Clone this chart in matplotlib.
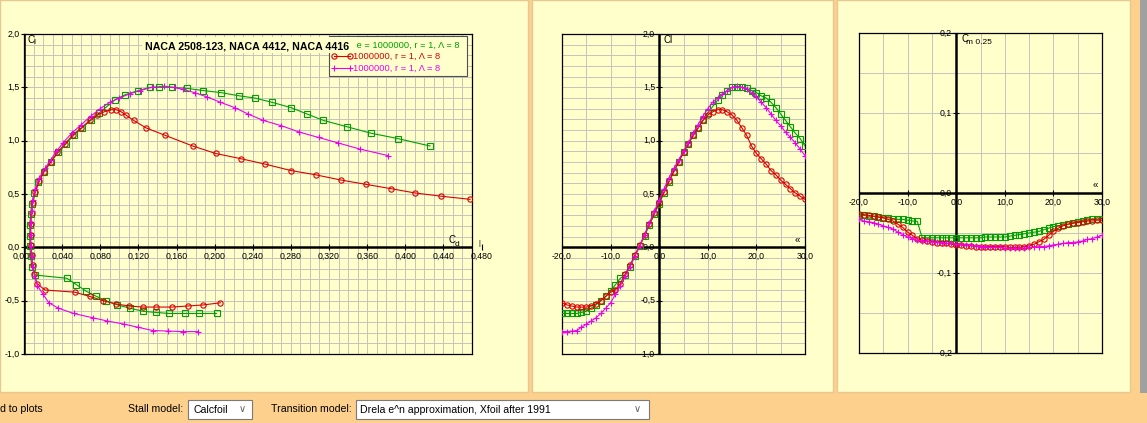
import matplotlib
matplotlib.use('Agg')
import matplotlib.pyplot as plt
from matplotlib.patches import Rectangle
from matplotlib.lines import Line2D
from matplotlib.transforms import ScaledTranslation

# ---------------- data ----------------
alpha = [-20, -19, -18, -17, -16, -15, -14, -13, -12, -11,
         -10, -9, -8, -7, -6, -5, -4, -3, -2, -1,
         0, 1, 2, 3, 4, 5, 6, 7, 8, 9,
         10, 11, 12, 13, 14, 15, 16, 17, 18, 19,
         20, 21, 22, 23, 24, 25, 26, 27, 28, 29, 30]

cl_green = [-0.62, -0.62, -0.62, -0.62, -0.61, -0.60, -0.57, -0.54, -0.50, -0.46,
            -0.41, -0.35, -0.29, -0.26, -0.18, -0.08, 0.01, 0.11, 0.21, 0.31,
            0.41, 0.51, 0.61, 0.71, 0.80, 0.89, 0.97, 1.05, 1.12, 1.19,
            1.26, 1.32, 1.38, 1.43, 1.47, 1.50, 1.50, 1.50, 1.49, 1.47,
            1.45, 1.42, 1.40, 1.36, 1.31, 1.25, 1.19, 1.13, 1.07, 1.02, 0.95]
cd_green = [0.202, 0.184, 0.169, 0.152, 0.138, 0.125, 0.111, 0.098, 0.086, 0.076,
            0.065, 0.055, 0.045, 0.012, 0.008, 0.007, 0.006, 0.006, 0.006, 0.007,
            0.008, 0.011, 0.015, 0.021, 0.028, 0.036, 0.044, 0.052, 0.061, 0.070,
            0.079, 0.087, 0.095, 0.106, 0.120, 0.132, 0.142, 0.155, 0.171, 0.188,
            0.207, 0.226, 0.242, 0.260, 0.280, 0.297, 0.314, 0.339, 0.364, 0.392, 0.426]
cm_green = [-0.028, -0.028, -0.029, -0.029, -0.030, -0.031, -0.031, -0.032, -0.033, -0.033,
            -0.034, -0.035, -0.0355, -0.056, -0.056, -0.056, -0.056, -0.056, -0.056, -0.056,
            -0.056, -0.056, -0.056, -0.056, -0.056, -0.056, -0.055, -0.055, -0.055, -0.055,
            -0.055, -0.054, -0.053, -0.052, -0.051, -0.050, -0.049, -0.048, -0.046, -0.044,
            -0.042, -0.041, -0.040, -0.039, -0.037, -0.036, -0.035, -0.034, -0.033, -0.033, -0.032]

cl_red = [-0.52, -0.54, -0.55, -0.56, -0.56, -0.56, -0.55, -0.53, -0.50, -0.46,
          -0.42, -0.40, -0.34, -0.25, -0.17, -0.07, 0.02, 0.12, 0.22, 0.32,
          0.42, 0.52, 0.62, 0.71, 0.80, 0.89, 0.97, 1.05, 1.12, 1.19,
          1.24, 1.27, 1.29, 1.29, 1.27, 1.24, 1.19, 1.12, 1.05, 0.95,
          0.88, 0.83, 0.78, 0.72, 0.68, 0.63, 0.59, 0.55, 0.51, 0.48, 0.45]
cd_red = [0.206, 0.188, 0.172, 0.155, 0.139, 0.125, 0.110, 0.096, 0.083, 0.069,
          0.053, 0.022, 0.0136, 0.011, 0.009, 0.008, 0.007, 0.007, 0.007, 0.008,
          0.009, 0.012, 0.016, 0.021, 0.028, 0.035, 0.043, 0.051, 0.060, 0.069,
          0.077, 0.084, 0.091, 0.097, 0.102, 0.107, 0.115, 0.128, 0.148, 0.177,
          0.201, 0.228, 0.253, 0.280, 0.306, 0.333, 0.359, 0.385, 0.410, 0.437, 0.468]
cm_red = [-0.026, -0.027, -0.028, -0.029, -0.030, -0.031, -0.033, -0.035, -0.039, -0.043,
          -0.049, -0.053, -0.057, -0.059, -0.060, -0.061, -0.062, -0.062, -0.063, -0.064,
          -0.065, -0.065, -0.066, -0.066, -0.067, -0.067, -0.067, -0.067, -0.067, -0.067,
          -0.067, -0.068, -0.068, -0.068, -0.067, -0.066, -0.064, -0.061, -0.058, -0.053,
          -0.048, -0.044, -0.041, -0.039, -0.038, -0.037, -0.036, -0.035, -0.035, -0.034, -0.034]

cl_mag = [-0.79, -0.79, -0.785, -0.78, -0.75, -0.72, -0.69, -0.66, -0.62, -0.57,
          -0.52, -0.44, -0.36, -0.27, -0.18, -0.08, 0.01, 0.12, 0.23, 0.34,
          0.44, 0.55, 0.65, 0.74, 0.82, 0.90, 0.98, 1.07, 1.15, 1.23,
          1.30, 1.36, 1.40, 1.44, 1.47, 1.50, 1.51, 1.50, 1.48, 1.45,
          1.41, 1.36, 1.31, 1.25, 1.19, 1.14, 1.08, 1.03, 0.98, 0.92, 0.86]
cd_mag = [0.183, 0.167, 0.151, 0.135, 0.120, 0.105, 0.087, 0.072, 0.052, 0.036,
          0.026, 0.020, 0.014, 0.011, 0.009, 0.008, 0.007, 0.007, 0.007, 0.008,
          0.009, 0.012, 0.016, 0.022, 0.028, 0.034, 0.041, 0.050, 0.060, 0.070,
          0.080, 0.090, 0.100, 0.111, 0.122, 0.134, 0.147, 0.157, 0.167, 0.179,
          0.192, 0.206, 0.221, 0.235, 0.251, 0.270, 0.289, 0.309, 0.329, 0.353, 0.382]
cm_mag = [-0.033, -0.035, -0.036, -0.037, -0.039, -0.041, -0.043, -0.045, -0.049, -0.052,
          -0.055, -0.057, -0.059, -0.060, -0.060, -0.061, -0.061, -0.062, -0.063, -0.063,
          -0.064, -0.064, -0.065, -0.065, -0.066, -0.067, -0.067, -0.068, -0.068, -0.068,
          -0.069, -0.069, -0.069, -0.069, -0.069, -0.068, -0.068, -0.067, -0.067, -0.066,
          -0.065, -0.064, -0.063, -0.062, -0.062, -0.061, -0.060, -0.058, -0.057, -0.055, -0.053]

title = "NACA 2508-123, NACA 4412, NACA 4416"
legend_labels = ["Re = 1000000, r = 1, \u039b = 8",
                 "1000000, r = 1, \u039b = 8",
                 "1000000, r = 1, \u039b = 8"]

cd_ticks = [0.0, 0.04, 0.08, 0.12, 0.16, 0.20, 0.24, 0.28, 0.32, 0.36, 0.40, 0.44, 0.48]
cl_ticks = [-1.0, -0.5, 0.0, 0.5, 1.0, 1.5, 2.0]
alpha_ticks = [-20, -10, 0, 10, 20, 30]
cm_ticks = [-0.2, -0.1, 0.0, 0.1, 0.2]

# ---------------- style ----------------
ORANGE = '#FDD08E'
PANEL = '#FFFFCC'
GRID = '#C4C4BC'
GREEN = '#00A000'
RED = '#DD0000'
MAG = '#EE00EE'
FONT = 'Liberation Sans'
plt.rcParams['font.family'] = [FONT, 'DejaVu Sans']

W, H = 1147, 423
fig = plt.figure(figsize=(W / 100, H / 100), dpi=100)
fig.patch.set_facecolor(ORANGE)


def rect_px(x0, y0, x1, y1, **kw):
    r = Rectangle((x0 / W, 1 - y1 / H), (x1 - x0) / W, (y1 - y0) / H,
                  transform=fig.transFigure, **kw)
    fig.patches.append(r)
    return r


def axes_px(x0, y0, x1, y1):
    return fig.add_axes([x0 / W, 1 - y1 / H, (x1 - x0) / W, (y1 - y0) / H])


def ftext(x, y, s, **kw):
    return fig.text(x / W, 1 - y / H, s, **kw)


# panels
rect_px(0, 0, 528, 392, facecolor=PANEL, edgecolor='#E8C890', lw=1, zorder=-10)
rect_px(532, 0, 833, 392, facecolor=PANEL, edgecolor='#E8C890', lw=1, zorder=-10)
rect_px(837, 0, 1130, 392, facecolor=PANEL, edgecolor='#E8C890', lw=1, zorder=-10)
rect_px(1140, 0, 1147, 393, facecolor='#A0A0A0', edgecolor='none', zorder=-10)

lab_kw = dict(fontsize=6.3, color='black')


def setup(ax, xlim, ylim, xgrid, ygrid):
    ax.set_facecolor(PANEL)
    ax.set_xlim(*xlim)
    ax.set_ylim(*ylim)
    ax.set_xticks(xgrid)
    ax.set_yticks(ygrid)
    ax.tick_params(length=0, labelbottom=False, labelleft=False)
    ax.grid(True, color=GRID, lw=0.7)
    ax.set_axisbelow(True)
    for s in ax.spines.values():
        s.set_linewidth(0.9)
        s.set_color('black')
    ax.axhline(0, color='black', lw=1.8, zorder=4)
    ax.axvline(0, color='black', lw=1.8, zorder=4)


def ticklabels(ax, xt, xfmt, yt, yfmt, x0=0.0):
    dx = ScaledTranslation(0, -9 / 100, fig.dpi_scale_trans)
    dy = ScaledTranslation(-4 / 100, 0, fig.dpi_scale_trans)
    for v in xt:
        ax.text(v, 0, xfmt(v), transform=ax.transData + dx, ha='center', va='center',
                clip_on=False, zorder=3, **lab_kw)
    for v in yt:
        ax.text(x0, v, yfmt(v), transform=ax.transData + dy, ha='right', va='center',
                clip_on=False, zorder=3, **lab_kw)
    ax.plot(xt, [0] * len(xt), linestyle='none', marker='|', ms=4, mew=0.8, color='black',
            clip_on=False, zorder=5)
    ax.plot([x0] * len(yt), yt, linestyle='none', marker='_', ms=4, mew=0.8, color='black',
            clip_on=False, zorder=5)


def fmt(d):
    return lambda v: (f"{v:.{d}f}").replace('.', ',')


mk = dict(ms=3.8, mew=0.8, mfc='none', lw=0.8)

# ---------------- panel 1 : Cl vs Cd ----------------
ax1 = axes_px(24, 34, 472, 354)
setup(ax1, (0, 0.47), (-1, 2), [i / 100 for i in range(0, 48)], [i / 10 for i in range(-10, 21)])
ax1.plot(cd_green, cl_green, color=GREEN, marker='s', zorder=6, **mk)
ax1.plot(cd_red, cl_red, color=RED, marker='o', zorder=6, **mk)
ax1.plot(cd_mag, cl_mag, color=MAG, marker='+', zorder=6, ms=4.5, mew=0.8, lw=0.8)
ticklabels(ax1, cd_ticks, fmt(3), cl_ticks, fmt(1))

# axis labels
ftext(28, 40, 'C', fontsize=7, va='center', ha='left')
ftext(33, 43, 'l', fontsize=6, va='center', ha='left')
ftext(449, 240, 'C', fontsize=7, va='center', ha='left')
ftext(455, 244, 'd', fontsize=6, va='center', ha='left')
ftext(478, 243, '|', fontsize=5, va='center', ha='left')

# legend (partly hidden by the title box)
rect_px(329, 36, 467, 76, facecolor=PANEL, edgecolor='#505050', lw=0.8, zorder=5)
leg_cols = [GREEN, RED, MAG]
leg_marks = ['s', 'o', '+']
leg_y = [45, 56.5, 68]
leg_x = [349.5, 353, 353]
for lbl, c, m, yy, xx in zip(legend_labels, leg_cols, leg_marks, leg_y, leg_x):
    fig.add_artist(Line2D([334 / W, 350 / W], [1 - yy / H, 1 - yy / H], color=c, lw=0.8,
                          marker=m, ms=3.8 if m != '+' else 4.5, mew=0.8, mfc='none',
                          transform=fig.transFigure, zorder=6))
    ftext(xx, yy, lbl, fontsize=6.7, color=c, va='center', ha='left', zorder=6)

# title box
rect_px(142, 37, 356, 53.5, facecolor=PANEL, edgecolor='none', zorder=7)
ftext(145, 46.5, title, fontsize=7.7, fontweight='bold', va='center', ha='left', zorder=8)

# ---------------- panel 2 : Cl vs alpha ----------------
ax2 = axes_px(562, 34, 805, 354)
setup(ax2, (-20, 30), (-1, 2), list(range(-20, 31, 5)), [i / 10 for i in range(-10, 21)])
ax2.plot(alpha, cl_green, color=GREEN, marker='s', zorder=6, **mk)
ax2.plot(alpha, cl_red, color=RED, marker='o', zorder=6, **mk)
ax2.plot(alpha, cl_mag, color=MAG, marker='+', zorder=6, ms=4.5, mew=0.8, lw=0.8)
ticklabels(ax2, alpha_ticks, fmt(1), cl_ticks, fmt(1))
ftext(663, 40, 'Cl', fontsize=7, va='center', ha='left')
ftext(795, 240, '\u00ab', fontsize=7, va='center', ha='left')

# ---------------- panel 3 : Cm vs alpha ----------------
ax3 = axes_px(859, 33, 1102, 353)
setup(ax3, (-20, 30), (-0.2, 0.2), list(range(-20, 31, 5)), [i / 100 for i in range(-20, 21, 5)])
ax3.plot(alpha, cm_green, color=GREEN, marker='s', zorder=6, **mk)
ax3.plot(alpha, cm_red, color=RED, marker='o', zorder=6, **mk)
ax3.plot(alpha, cm_mag, color=MAG, marker='+', zorder=6, ms=4.5, mew=0.8, lw=0.8)
ticklabels(ax3, alpha_ticks, fmt(1), cm_ticks, fmt(1))
ftext(961, 39, 'C', fontsize=7, va='center', ha='left')
ftext(966, 43, 'm 0.25', fontsize=6, va='center', ha='left')
ftext(1093, 185, '\u00ab', fontsize=7, va='center', ha='left')

# ---------------- bottom control strip ----------------
bt = dict(fontsize=7.6, va='center', ha='left', color='black')
ftext(0, 409, 'd to plots', **bt)
ftext(128, 409, 'Stall model:', **bt)
rect_px(188, 400, 252, 419, facecolor='white', edgecolor='#7A7A7A', lw=0.8, zorder=2)
ftext(193, 409.5, 'Calcfoil', **bt)
ftext(239, 409, '\u2228', fontsize=7, color='#606060', va='center', ha='left')
ftext(271, 409, 'Transition model:', **bt)
rect_px(356, 400, 649, 419, facecolor='white', edgecolor='#7A7A7A', lw=0.8, zorder=2)
ftext(360, 409.5, 'Drela e^n approximation, Xfoil after 1991', **bt)
ftext(634, 409, '\u2228', fontsize=7, color='#606060', va='center', ha='left')

fig.savefig('out.png', dpi=100, facecolor=fig.get_facecolor())
